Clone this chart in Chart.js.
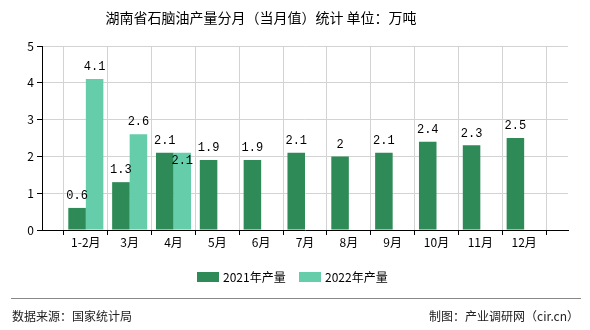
<!DOCTYPE html>
<html>
<head>
<meta charset="utf-8">
<script src="https://cdn.jsdelivr.net/npm/chart.js@4/dist/chart.umd.min.js"></script>
<style>
  html, body { margin: 0; padding: 0; background: #fff; }
  #wrap { width: 590px; height: 330px; position: relative; }
</style>
</head>
<body>
<div id="wrap"><canvas id="c" width="590" height="330"></canvas></div>
<script>
// data
const months = ['1-2月', '3月', '4月', '5月', '6月', '7月', '8月', '9月', '10月', '11月', '12月'];
const output2021 = [0.6, 1.3, 2.1, 1.9, 1.9, 2.1, 2, 2.1, 2.4, 2.3, 2.5];
const output2022 = [4.1, 2.6, 2.1, null, null, null, null, null, null, null, null];
const yTicks = [0, 1, 2, 3, 4, 5];

const seriesNames = ['2021年产量', '2022年产量'];
const colors = ['#2e8b57', '#66cdaa'];
const cjk = '"Noto Sans CJK SC", "Noto Sans", sans-serif';

// one empty slot on each side, like the original axis
const labels = [''].concat(months, ['']);
const pad = arr => [null].concat(arr, [null]);

// value labels over bars, pushed into the bar when they would collide
const valueLabels = {
  id: 'valueLabels',
  afterDatasetsDraw(chart) {
    const ctx = chart.ctx;
    ctx.save();
    ctx.font = '12px "Liberation Mono", "DejaVu Sans Mono", monospace';
    ctx.fillStyle = '#000';
    ctx.textAlign = 'center';
    ctx.textBaseline = 'middle';
    const boxes = [];
    chart.data.datasets.forEach((ds, di) => {
      chart.getDatasetMeta(di).data.forEach((bar, i) => {
        const v = ds.data[i];
        if (v == null) return;
        const txt = String(v);
        const w = ctx.measureText(txt).width;
        let y = bar.y - 12;
        const hit = boxes.some(b => Math.abs(b.x - bar.x) < (b.w + w) / 2 && Math.abs(b.y - y) < 12);
        if (hit) y = bar.y + 8;
        boxes.push({ x: bar.x, y: y, w: w });
        ctx.fillText(txt, bar.x, y);
      });
    });
    ctx.restore();
  }
};

// title, legend and footer
const decor = {
  id: 'decor',
  afterDraw(chart) {
    const ctx = chart.ctx;
    ctx.save();
    ctx.fillStyle = '#000';
    ctx.textBaseline = 'middle';
    ctx.textAlign = 'center';
    ctx.font = '14px ' + cjk;
    ctx.fillText('湖南省石脑油产量分月（当月值）统计 单位：万吨', 261, 18);

    ctx.textAlign = 'left';
    ctx.font = '12px ' + cjk;
    const lx = [197, 299];
    seriesNames.forEach((n, i) => {
      ctx.fillStyle = colors[i];
      ctx.fillRect(lx[i], 272, 22, 10);
      ctx.fillStyle = '#000';
      ctx.fillText(n, lx[i] + 26, 277);
    });

    ctx.strokeStyle = '#888';
    ctx.lineWidth = 1;
    ctx.beginPath();
    ctx.moveTo(11, 298.5);
    ctx.lineTo(581, 298.5);
    ctx.stroke();

    ctx.fillStyle = '#222';
    ctx.font = '12px ' + cjk;
    ctx.fillText('数据来源：国家统计局', 12, 316);
    ctx.textAlign = 'right';
    ctx.fillText('制图：产业调研网（cir.cn）', 579, 316);
    ctx.restore();
  }
};

new Chart(document.getElementById('c'), {
  type: 'bar',
  data: {
    labels: labels,
    datasets: [
      { label: seriesNames[0], data: pad(output2021), backgroundColor: colors[0] },
      { label: seriesNames[1], data: pad(output2022), backgroundColor: colors[1] }
    ]
  },
  options: {
    responsive: false,
    animation: false,
    layout: { padding: { left: 0, right: 22, top: 46, bottom: 78 } },
    datasets: { bar: { categoryPercentage: 0.8, barPercentage: 1 } },
    plugins: { legend: { display: false }, title: { display: false }, tooltip: { enabled: false } },
    scales: {
      x: {
        offset: false,
        grid: { color: '#d3d3d3', tickColor: '#000', tickLength: 5 },
        border: { color: '#000', width: 1 },
        ticks: { color: '#000', font: { size: 12, family: cjk }, padding: 0, maxRotation: 0, autoSkip: false },
        afterFit(s) { s.height = 22; }
      },
      y: {
        min: 0,
        max: 5,
        afterBuildTicks(s) { s.ticks = yTicks.map(v => ({ value: v })); },
        grid: { color: '#d3d3d3', tickColor: '#000', tickLength: 5 },
        border: { color: '#000', width: 1 },
        ticks: { color: '#000', font: { size: 12, family: cjk }, padding: 3 },
        afterFit(s) { s.width = 42; }
      }
    }
  },
  plugins: [valueLabels, decor]
});
</script>
</body>
</html>
